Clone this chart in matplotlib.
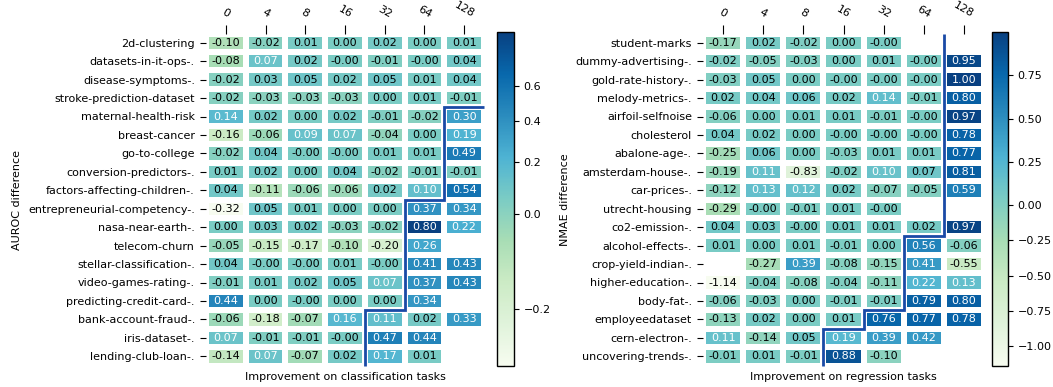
import numpy as np
import matplotlib
matplotlib.use("Agg")
import matplotlib.pyplot as plt
from matplotlib import colors, ticker, cm

nan = np.nan

shots = ["0", "4", "8", "16", "32", "64", "128"]

cls_tasks = [
    "2d-clustering", "datasets-in-it-ops-.", "disease-symptoms-.",
    "stroke-prediction-dataset", "maternal-health-risk", "breast-cancer",
    "go-to-college", "conversion-predictors-.", "factors-affecting-children-.",
    "entrepreneurial-competency-.", "nasa-near-earth-.", "telecom-churn",
    "stellar-classification-.", "video-games-rating-.", "predicting-credit-card-.",
    "bank-account-fraud-.", "iris-dataset-.", "lending-club-loan-.",
]
cls_values = [
    [-0.10, -0.02, 0.01, 0.00, 0.02, 0.00, 0.01],
    [-0.08, 0.07, 0.02, -0.0, -0.01, -0.0, 0.04],
    [-0.02, 0.03, 0.05, 0.02, 0.05, 0.01, 0.04],
    [-0.02, -0.03, -0.03, -0.03, 0.00, 0.01, -0.01],
    [0.14, 0.02, 0.00, 0.02, -0.01, -0.02, 0.30],
    [-0.16, -0.06, 0.09, 0.07, -0.04, 0.00, 0.19],
    [-0.02, 0.04, -0.0, -0.0, 0.01, 0.01, 0.49],
    [0.01, 0.02, 0.00, 0.04, -0.02, -0.01, -0.01],
    [0.04, -0.11, -0.06, -0.06, 0.02, 0.10, 0.54],
    [-0.32, 0.05, 0.01, 0.00, 0.00, 0.37, 0.34],
    [0.00, 0.03, 0.02, -0.03, -0.02, 0.80, 0.22],
    [-0.05, -0.15, -0.17, -0.10, -0.20, 0.26, nan],
    [0.04, -0.0, -0.0, 0.01, -0.0, 0.41, 0.43],
    [-0.01, 0.01, 0.02, 0.05, 0.07, 0.37, 0.43],
    [0.44, 0.00, -0.0, 0.00, 0.00, 0.34, nan],
    [-0.06, -0.18, -0.07, 0.16, 0.11, 0.02, 0.33],
    [0.07, -0.01, -0.01, -0.0, 0.47, 0.44, nan],
    [-0.14, 0.07, -0.07, 0.02, 0.17, 0.01, nan],
]
# first column (per row) right of the highlighted frontier
cls_frontier = [7, 7, 7, 7, 6, 6, 6, 6, 6, 5, 5, 5, 5, 5, 5, 4, 4, 4]

reg_tasks = [
    "student-marks", "dummy-advertising-.", "gold-rate-history-.",
    "melody-metrics-.", "airfoil-selfnoise", "cholesterol", "abalone-age-.",
    "amsterdam-house-.", "car-prices-.", "utrecht-housing", "co2-emission-.",
    "alcohol-effects-.", "crop-yield-indian-.", "higher-education-.",
    "body-fat-.", "employeedataset", "cern-electron-.", "uncovering-trends-.",
]
reg_values = [
    [-0.17, 0.02, -0.02, 0.00, -0.0, nan, nan],
    [-0.02, -0.05, -0.03, 0.00, 0.01, -0.0, 0.95],
    [-0.03, 0.05, 0.00, -0.0, -0.0, -0.0, 1.00],
    [0.02, 0.04, 0.06, 0.02, 0.14, -0.01, 0.80],
    [-0.06, 0.00, 0.01, 0.01, -0.01, -0.0, 0.97],
    [0.04, 0.02, 0.00, -0.0, -0.0, -0.0, 0.78],
    [-0.25, 0.06, 0.00, -0.03, 0.01, 0.01, 0.77],
    [-0.19, 0.11, -0.83, -0.02, 0.10, 0.07, 0.81],
    [-0.12, 0.13, 0.12, 0.02, -0.07, -0.05, 0.59],
    [-0.29, -0.0, -0.01, 0.01, -0.0, nan, nan],
    [0.04, 0.03, -0.0, 0.01, 0.01, 0.02, 0.97],
    [0.01, 0.00, 0.01, -0.01, 0.00, 0.56, -0.06],
    [nan, -0.27, 0.39, -0.08, -0.15, 0.41, -0.55],
    [-1.14, -0.04, -0.08, -0.04, -0.11, 0.22, 0.13],
    [-0.06, -0.03, 0.00, -0.01, -0.01, 0.79, 0.80],
    [-0.13, 0.02, 0.00, 0.01, 0.76, 0.77, 0.78],
    [0.11, -0.14, 0.05, 0.19, 0.39, 0.42, nan],
    [-0.01, 0.01, -0.01, 0.88, -0.10, nan, nan],
]
reg_frontier = [6] * 11 + [5] * 4 + [4] + [3] * 2

cls_cbar_ticks = [-0.2, 0.0, 0.2, 0.4, 0.6]
reg_cbar_ticks = [-1.0, -0.75, -0.5, -0.25, 0.0, 0.25, 0.5, 0.75]

# colourbar axis placement (value -> fraction of bar height)
cls_knot_vals = [-0.32, 0.0, 0.2, 0.4, 0.6, 0.80]
cls_knot_frac = [0.0, 0.455, 0.611, 0.734, 0.838, 1.0]
reg_knot_vals = [-1.14, 0.0, 1.0]
reg_knot_frac = [0.0, 0.482, 1.0]

FS = 8
LINE_COLOR = "#1a4aa6"
CMAP = plt.get_cmap("GnBu")
TEXT_THRESHOLD = 0.54   # in normalised colour units

plt.rcParams["font.family"] = ["DejaVu Sans"]
plt.rcParams["font.size"] = FS

fig = plt.figure(figsize=(10.53, 3.87), dpi=100)


def make_func_norm(kv, kf):
    kv = np.asarray(kv, float)
    kf = np.asarray(kf, float)

    def fwd(x):
        return np.interp(np.asarray(x, float), kv, kf)

    def inv(y):
        return np.interp(np.asarray(y, float), kf, kv)

    return colors.FuncNorm((fwd, inv), vmin=kv[0], vmax=kv[-1])


def frontier_path(frontier, ncols):
    xs, ys = [], []
    r0 = next(i for i, b in enumerate(frontier) if b < ncols)
    x = frontier[0] if r0 == 0 else ncols
    xs.append(x); ys.append(r0)
    for r in range(r0, len(frontier)):
        b = frontier[r]
        if b != x:
            xs.append(b); ys.append(r)
            x = b
        xs.append(x); ys.append(r + 1)
    return xs, ys


def draw(ax_rect, cax_rect, tasks, values, frontier, knots_v, knots_f,
         cticks, cfmt, ylabel, xlabel):
    ax = fig.add_axes(ax_rect)
    cax = fig.add_axes(cax_rect)
    arr = np.array(values, dtype=float)
    data = np.ma.masked_invalid(arr)
    nrows, ncols = data.shape
    norm = colors.TwoSlopeNorm(vcenter=0.0, vmin=np.nanmin(arr),
                               vmax=np.nanmax(arr))
    ax.pcolormesh(np.arange(ncols + 1), np.arange(nrows + 1), data,
                  cmap=CMAP, norm=norm, edgecolors="white", linewidth=3.2)
    ax.set_xlim(0, ncols)
    ax.set_ylim(nrows, 0)
    for s in ax.spines.values():
        s.set_visible(False)
    for i in range(nrows):
        for j in range(ncols):
            v = values[i][j]
            if np.isnan(v):
                continue
            tc = "white" if norm(v) > TEXT_THRESHOLD else "black"
            ax.text(j + 0.5, i + 0.5, "{:.2f}".format(v), ha="center",
                    va="center", color=tc, fontsize=FS)
    xs, ys = frontier_path(frontier, ncols)
    ax.plot(xs, ys, color=LINE_COLOR, lw=2.0, clip_on=False,
            solid_joinstyle="miter", solid_capstyle="butt", zorder=5)
    ax.xaxis.tick_top()
    ax.set_xticks(np.arange(ncols) + 0.5)
    ax.set_xticklabels(shots, rotation=-30, ha="center", fontsize=FS)
    ax.set_yticks(np.arange(nrows) + 0.5)
    ax.set_yticklabels(tasks, fontsize=FS)
    ax.tick_params(axis="x", length=6.5, width=0.8, pad=3.5)
    ax.tick_params(axis="y", length=4.5, width=0.8)
    ax.xaxis.set_label_position("bottom")
    ax.set_xlabel(xlabel, fontsize=FS, labelpad=5)
    ax.set_ylabel(ylabel, fontsize=FS)

    sm = cm.ScalarMappable(norm=make_func_norm(knots_v, knots_f), cmap=CMAP)
    cb = fig.colorbar(sm, cax=cax)
    cb.set_ticks(cticks)
    cb.ax.yaxis.set_major_formatter(
        ticker.FuncFormatter(lambda v, p: cfmt.format(v).replace("-", "\u2212")))
    cb.ax.tick_params(labelsize=FS)
    cb.outline.set_linewidth(1.0)
    cb.outline.set_edgecolor("black")
    return ax


H = 387.0
W = 1053.0


def rect(x0, x1, y0, y1):
    return [x0 / W, 1 - y1 / H, (x1 - x0) / W, (y1 - y0) / H]


draw(rect(206, 484, 33.5, 365.5), rect(497, 514, 32, 366),
     cls_tasks, cls_values, cls_frontier, cls_knot_vals, cls_knot_frac,
     cls_cbar_ticks, "{:.1f}", "AUROC difference",
     "Improvement on classification tasks")
draw(rect(703, 984, 33.5, 365.5), rect(992, 1008, 32, 366),
     reg_tasks, reg_values, reg_frontier, reg_knot_vals, reg_knot_frac,
     reg_cbar_ticks, "{:.2f}", "NMAE difference",
     "Improvement on regression tasks")

fig.savefig("out.png", dpi=100)
